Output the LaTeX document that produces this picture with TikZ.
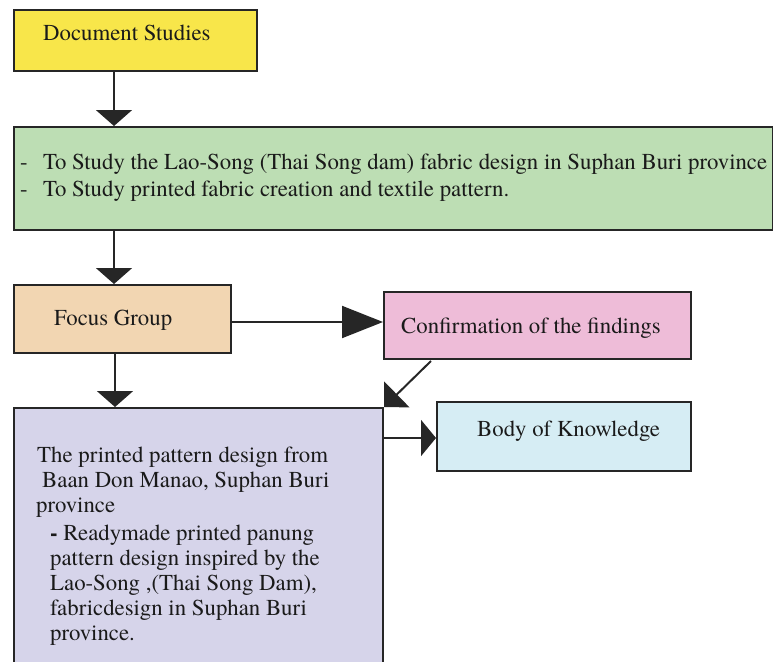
\documentclass[tikz,border=0pt]{standalone}
\usepackage{fontspec}
\setmainfont{texgyretermes-regular.otf}[BoldFont=texgyretermes-bold.otf]
\usetikzlibrary{arrows.meta}
\definecolor{bordc}{HTML}{262626}
\definecolor{txtc}{HTML}{1A1A1A}
\definecolor{yel}{HTML}{F8E64A}
\definecolor{grn}{HTML}{BDDEB4}
\definecolor{tan}{HTML}{F2D6B2}
\definecolor{pnk}{HTML}{EEBCD8}
\definecolor{lav}{HTML}{D6D4EA}
\definecolor{lbl}{HTML}{D6EDF4}
\tikzset{
  box/.style={draw=bordc, line width=2pt, inner sep=0pt, anchor=north west},
  txt/.style={anchor=base west, inner sep=0pt, text=txtc, font=\fontsize{22.8pt}{25pt}\selectfont},
  conn/.style={draw=bordc, line width=2pt},
  varr/.style={conn, -{Triangle[length=16pt,width=36pt]}},
  harr/.style={conn, -{Triangle[length=41pt,width=32pt]}},
  barr/.style={conn, -{Triangle[length=15pt,width=36pt]}},
  darr/.style={conn, -{Triangle[length=18pt,width=36pt]}}
}
\begin{document}
\begin{tikzpicture}[x=1pt,y=-1pt]
\useasboundingbox (0,0) rectangle (773,661);
% boxes
\node[box, fill=yel, minimum width=243pt, minimum height=61pt] (doc) at (13,9) {};
\node[box, fill=grn, minimum width=759pt, minimum height=103pt] (green) at (13,126) {};
\node[box, fill=tan, minimum width=217pt, minimum height=68pt] (focus) at (13,284) {};
\node[box, fill=pnk, minimum width=307pt, minimum height=67pt] (conf) at (383,291) {};
\node[box, fill=lbl, minimum width=254pt, minimum height=69pt] (body) at (436,401) {};
\node[box, fill=lav, minimum width=369pt, minimum height=275pt] (purple) at (13,407) {};
% texts
\node[txt] (docT) at (43,41) {Document Studies};
\node[txt] (g1) at (20,169) {\makebox[23pt][l]{-}To Study the Lao-Song (Thai Song dam) fabric design in Suphan Buri province};
\node[txt] (g2) at (20,196) {\makebox[23pt][l]{-}To Study printed fabric creation and textile pattern.};
\node[txt] (focT) at (54,325) {Focus Group};
\node[txt] (confT) at (401,333) {Confirmation of the findings};
\node[txt] (bodyT) at (477,436) {Body of Knowledge};
\node[txt] (p1) at (37,462) {The printed pattern design from};
\node[txt] (p2) at (42,487) {Baan Don Manao, Suphan Buri};
\node[txt] (p3) at (36,512) {province};
\node[txt] (p4) at (50,540) {\textbf{-} Readymade printed panung};
\node[txt] (p5) at (50,565) {pattern design inspired by the};
\node[txt] (p6) at (50,590) {Lao-Song ,(Thai Song Dam),};
\node[txt] (p7) at (50,615) {fabricdesign in Suphan Buri};
\node[txt] (p8) at (50,640) {province.};
% connectors
\draw[varr] ([xshift=101pt]doc.south west) -- ([xshift=101pt]green.north west);
\draw[varr] ([xshift=101pt]green.south west) -- ([xshift=101pt]focus.north west);
\draw[varr] ([xshift=102pt]focus.south west) -- ([xshift=102pt]purple.north west);
\coordinate (fc) at ([yshift=-3pt]focus.east);
\draw[harr] (fc) -- (fc -| conf.west);
\draw[darr] ([xshift=48pt,yshift=-1pt]conf.south west) -- (purple.north east);
\coordinate (bw) at ([yshift=-1.5pt]body.west);
\draw[barr] (bw -| purple.east) -- (bw);
\end{tikzpicture}
\end{document}
